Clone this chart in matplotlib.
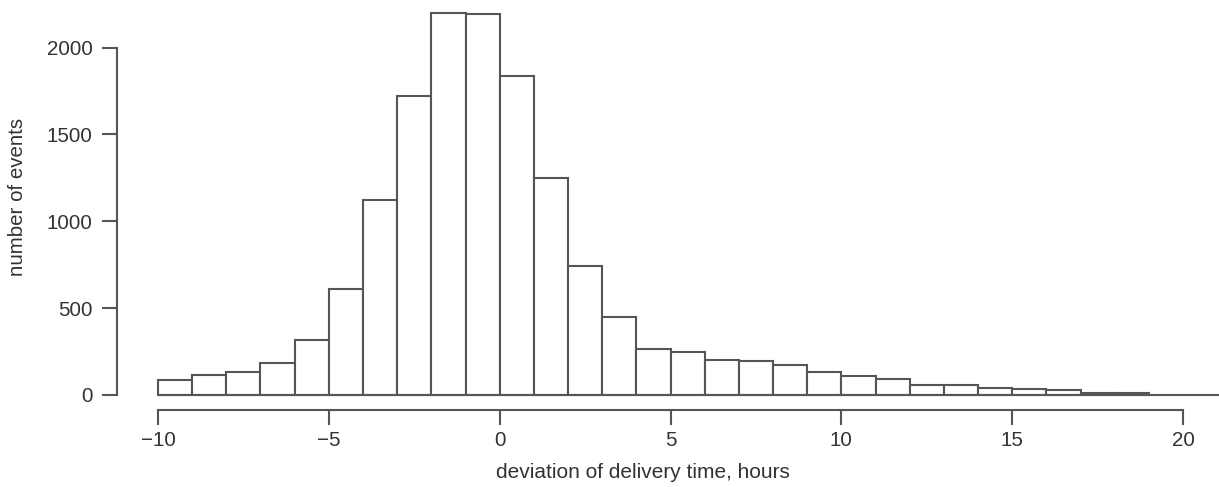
"""Histogram of delivery-time deviations (number of events per 1-hour bin)."""

import matplotlib

matplotlib.use("Agg")
import matplotlib.pyplot as plt  # noqa: E402

# bin edges in hours, one-hour bins from -10 to 19
bin_edges = list(range(-10, 20))
counts = [86, 115, 134, 182, 313, 610, 1122, 1724, 2201, 2192,
          1839, 1250, 740, 451, 263, 249, 201, 192, 171, 132,
          111, 92, 56, 56, 40, 31, 29, 10, 10]
x_ticks = [-10, -5, 0, 5, 10, 15, 20]
y_ticks = [0, 500, 1000, 1500, 2000]

EDGE = "#555555"
TEXT = "#333333"

plt.rcParams["font.family"] = ["Liberation Sans", "DejaVu Sans"]
plt.rcParams["axes.unicode_minus"] = True

W, H = 1219, 487
fig = plt.figure(figsize=(W / 100, H / 100), dpi=100)
left_px, bottom_px = 132, 394.8
ax = fig.add_axes([left_px / W, (H - bottom_px) / H, 1 - left_px / W, bottom_px / H])

ax.bar(bin_edges[:-1], counts, width=1, align="edge", facecolor="white",
       edgecolor=EDGE, linewidth=1.5, zorder=2, clip_on=False)

x_lo, x_hi = -10.76, 21.05
ax.hlines(0, bin_edges[0], x_hi, colors=EDGE, linewidth=1.5, zorder=3,
          clip_on=False)
ax.set_xlim(x_lo, x_hi)
ax.set_ylim(0, 2275)

for side in ("top", "right"):
    ax.spines[side].set_visible(False)
for side in ("left", "bottom"):
    ax.spines[side].set_position(("outward", 10.8))
    ax.spines[side].set_color(EDGE)
    ax.spines[side].set_linewidth(1.5)
ax.spines["bottom"].set_bounds(x_ticks[0], x_ticks[-1])
ax.spines["left"].set_bounds(y_ticks[0], y_ticks[-1])

ax.set_xticks(x_ticks)
ax.set_yticks(y_ticks)
ax.tick_params(axis="both", direction="out", length=10.5, width=1.5,
               color=EDGE, labelcolor=TEXT, labelsize=14.8)
ax.tick_params(axis="y", pad=7)
ax.tick_params(axis="x", pad=5)

ax.set_xlabel("deviation of delivery time, hours", fontsize=15, color=TEXT)
ax.set_ylabel("number of events", fontsize=14.8, color=TEXT)
ax.xaxis.set_label_coords((642.5 - left_px) / (W - left_px), -(472 - bottom_px) / bottom_px)
ax.xaxis.label.set_va("center")
ax.yaxis.set_label_coords(-(left_px - 18) / (W - left_px), 0.5)
ax.yaxis.label.set_va("center")

fig.savefig("out.png", dpi=100)
